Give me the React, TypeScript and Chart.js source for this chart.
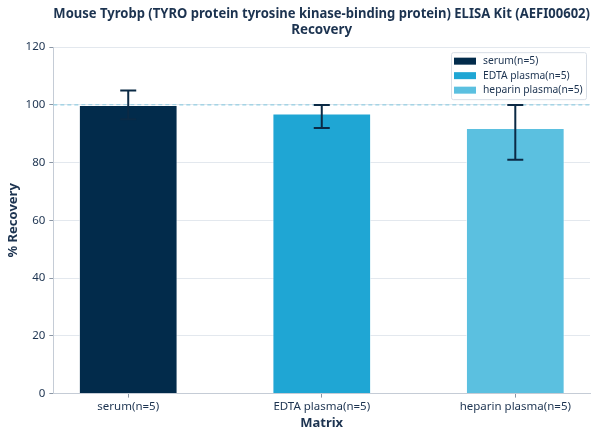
import React, { useEffect, useRef } from 'react';
import { Chart, registerables } from 'chart.js';

Chart.register(...registerables);

const categories = ['serum(n=5)', 'EDTA plasma(n=5)', 'heparin plasma(n=5)'];
const recovery = [100, 97, 92];
const errLow = [95, 92, 81];
const errHigh = [105, 100, 100];
const barColors = ['#022b4b', '#1fa6d4', '#5bc0e0'];
const refLine = 100;
const yTicks = [0, 20, 40, 60, 80, 100, 120];

const FONT = '"Noto Sans", sans-serif';
const TEXT = '#1c3350';

const errorBarPlugin = {
  id: 'errorBars',
  afterDatasetsDraw(chart: any) {
    const { ctx, scales } = chart;
    const meta = chart.getDatasetMeta(0);
    ctx.save();
    ctx.strokeStyle = '#0b2a45';
    ctx.lineWidth = 2;
    meta.data.forEach((bar: any, i: number) => {
      const x = bar.x;
      const yl = scales.y.getPixelForValue(errLow[i]);
      const yh = scales.y.getPixelForValue(errHigh[i]);
      ctx.beginPath();
      ctx.moveTo(x, yl);
      ctx.lineTo(x, yh);
      ctx.moveTo(x - 8, yh);
      ctx.lineTo(x + 8, yh);
      ctx.moveTo(x - 8, yl);
      ctx.lineTo(x + 8, yl);
      ctx.stroke();
    });
    ctx.restore();
  },
};

const refLinePlugin = {
  id: 'refLine',
  beforeDatasetsDraw(chart: any) {
    const { ctx, chartArea, scales } = chart;
    const y = scales.y.getPixelForValue(refLine);
    ctx.save();
    ctx.strokeStyle = '#7fc6df';
    ctx.lineWidth = 1;
    ctx.setLineDash([4, 3]);
    ctx.beginPath();
    ctx.moveTo(chartArea.left, y);
    ctx.lineTo(chartArea.right, y);
    ctx.stroke();
    ctx.restore();
  },
};

const legendBoxPlugin = {
  id: 'legendBox',
  afterDraw(chart: any) {
    const { ctx, chartArea } = chart;
    const w = 135;
    const h = 47;
    const x0 = chartArea.right - w - 4;
    const y0 = chartArea.top + 5;
    ctx.save();
    ctx.fillStyle = 'rgba(255,255,255,0.9)';
    ctx.strokeStyle = '#d8dee6';
    ctx.lineWidth = 1;
    ctx.beginPath();
    ctx.roundRect(x0 + 0.5, y0 + 0.5, w, h, 2);
    ctx.fill();
    ctx.stroke();
    ctx.font = `10.3px ${FONT}`;
    ctx.textBaseline = 'middle';
    categories.forEach((label, i) => {
      const cy = y0 + 9 + i * 14.5;
      ctx.fillStyle = barColors[i];
      ctx.fillRect(x0 + 3, cy - 3.5, 22, 7);
      ctx.fillStyle = TEXT;
      ctx.fillText(label, x0 + 32, cy);
    });
    ctx.restore();
  },
};

export default function App() {
  const chartRef = useRef<HTMLCanvasElement>(null);
  const chartInstanceRef = useRef<Chart | null>(null);

  useEffect(() => {
    document.body.style.margin = '0';
    if (!chartRef.current) return;
    if (chartInstanceRef.current) chartInstanceRef.current.destroy();

    chartInstanceRef.current = new Chart(chartRef.current, {
      type: 'bar',
      data: {
        datasets: [{
          label: 'Recovery',
          data: recovery.map((v, i) => ({ x: i, y: v })),
          backgroundColor: barColors,
          borderColor: 'rgba(255,255,255,0.6)',
          borderWidth: 1,
          barPercentage: 0.51,
          categoryPercentage: 1,
        }],
      },
      options: {
        animation: false,
        responsive: false,
        layout: { padding: { left: 5, right: 18, top: 0, bottom: 6 } },
        plugins: {
          legend: { display: false },
          tooltip: { enabled: false },
          title: {
            display: true,
            fullSize: false,
            text: ['Mouse Tyrobp (TYRO protein tyrosine kinase-binding protein) ELISA Kit (AEFI00602)', 'Recovery'],
            color: TEXT,
            font: { family: FONT, size: 13.4, weight: 'bold', lineHeight: 1.2 },
            padding: { top: 6, bottom: 9 },
          },
        },
        scales: {
          x: {
            type: 'linear',
            min: -0.387,
            max: 2.386,
            offset: false,
            afterBuildTicks: (axis: any) => {
              axis.ticks = categories.map((_, i) => ({ value: i }));
            },
            grid: {
              display: true,
              offset: false,
              drawOnChartArea: false,
              drawTicks: true,
              tickLength: 4,
              tickColor: '#8a96a5',
            },
            border: { color: '#c5ccd6' },
            ticks: {
              color: TEXT,
              font: { family: FONT, size: 11.5 },
              padding: 2,
              autoSkip: false,
              maxRotation: 0,
              callback: (v: any) => categories[v] ?? '',
            },
            title: {
              display: true,
              text: 'Matrix',
              color: TEXT,
              font: { family: FONT, size: 13, weight: 'bold' },
              padding: { top: 0, bottom: 0 },
            },
          },
          y: {
            min: 0,
            max: 120,
            afterBuildTicks: (axis: any) => {
              axis.ticks = yTicks.map((v) => ({ value: v }));
            },
            grid: { color: '#e3e8ee', tickLength: 4, tickColor: '#8a96a5' },
            border: { color: '#c5ccd6' },
            ticks: { color: TEXT, font: { family: FONT, size: 11.5 }, padding: 4 },
            title: {
              display: true,
              text: '% Recovery',
              color: TEXT,
              font: { family: FONT, size: 13, weight: 'bold' },
              padding: { top: 0, bottom: 1 },
            },
          },
        },
      },
      plugins: [refLinePlugin, errorBarPlugin, legendBoxPlugin],
    } as any);

    return () => {
      if (chartInstanceRef.current) {
        chartInstanceRef.current.destroy();
        chartInstanceRef.current = null;
      }
    };
  }, []);

  return (
    <div style={{ width: 608, height: 437, background: '#fff' }}>
      <canvas ref={chartRef} width={608} height={437}></canvas>
    </div>
  );
}
